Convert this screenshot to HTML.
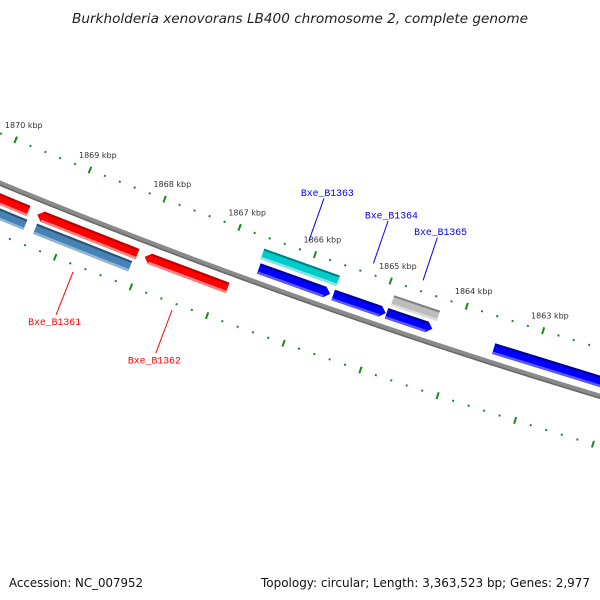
<!DOCTYPE html>
<html><head><meta charset="utf-8"><style>
html,body{margin:0;padding:0;background:#fff;}
svg{display:block;}
</style></head><body>
<svg id="map" width="600" height="600" viewBox="0 0 600 600" xmlns="http://www.w3.org/2000/svg">
<rect width="600" height="600" fill="#fff"/>
<text x="300" y="23" text-anchor="middle" font-family="DejaVu Sans, Liberation Sans, sans-serif" font-style="italic" font-size="13" fill="#222" textLength="456" lengthAdjust="spacingAndGlyphs">Burkholderia xenovorans LB400 chromosome 2, complete genome</text>
<g id="plot"></g>
<text x="9" y="587" font-family="DejaVu Sans, Liberation Sans, sans-serif" font-size="12" fill="#111" textLength="134" lengthAdjust="spacingAndGlyphs">Accession: NC_007952</text>
<text x="261" y="587" font-family="DejaVu Sans, Liberation Sans, sans-serif" font-size="12" fill="#111" textLength="329" lengthAdjust="spacingAndGlyphs">Topology: circular; Length: 3,363,523 bp; Genes: 2,977</text>
</svg>
<script>
// data (kbp)
const tickMajors = [1870, 1869, 1868, 1867, 1866, 1865, 1864, 1863, 1862];
const tickLabels = ["1870 kbp","1869 kbp","1868 kbp","1867 kbp","1866 kbp","1865 kbp","1864 kbp","1863 kbp",""];
const geneStarts = [1870.6, 1869.40, 1867.975, 1870.6, 1869.36, 1866.60, 1866.62, 1865.62, 1864.92, 1864.90, 1863.52];
const geneEnds   = [1869.52, 1868.07, 1866.88, 1869.49, 1868.10, 1865.66, 1865.62, 1864.93, 1864.32, 1864.30, 1861.80];
const geneKinds  = ["rev","rev","rev","revcds","revcds","fwd","fwdcds","fwd","fwd","misc","fwd"];
const labelNames = ["Bxe_B1361","Bxe_B1362","Bxe_B1363","Bxe_B1364","Bxe_B1365"];
const labelGene  = [4, 2, 5, 7, 8];

const NS="http://www.w3.org/2000/svg";
const CX=2415, CY=-5667;
const R_BACK=6329, R_UP=6283, R_LOW=6377;
function ang(k){ return (112.45-(1870-k)*0.731)*Math.PI/180; }
function pt(k,r){ const a=ang(k); return [CX+r*Math.cos(a), CY+r*Math.sin(a)]; }
function P(arr){ return arr.map(p=>p[0].toFixed(2)+","+p[1].toFixed(2)).join(" "); }
const plot=document.getElementById('plot');
function mk(tag,attrs,parent){ const e=document.createElementNS(NS,tag); for(const k in attrs) e.setAttribute(k,attrs[k]); (parent||plot).appendChild(e); return e; }

// backbone
(function(){
  const pts=[], ptsO=[];
  for(let k=1871.5;k>=1861.5;k-=0.1){ pts.push(pt(k,R_BACK)); ptsO.push(pt(k,R_BACK+2)); }
  const b=mk('polyline',{points:P(pts),fill:'none',stroke:'#8a8a8a','stroke-width':5});
  
  
  const b2=mk('polyline',{points:P(ptsO),fill:'none',stroke:'#666','stroke-width':1.5});
  
  
})();

// ticks
function tickRow(r,name,withLabels){
  const g=mk('g',{});
  
  
  const kmax=tickMajors[0]+0.8, kmin=tickMajors[tickMajors.length-1];
  for(let i=Math.round(kmax*5);i>=Math.round(kmin*5);i--){
    const k=i/5;
    const major=Math.abs(k-Math.round(k))<1e-6;
    if(major){
      const a=pt(k,r-3.5), b=pt(k,r+3.5);
      const t=mk('line',{x1:a[0],y1:a[1],x2:b[0],y2:b[1],stroke:'#1a8a1a','stroke-width':2},g);
      
      
    } else {
      const a=pt(k,r-1), b=pt(k,r+1);
      const t=mk('line',{x1:a[0],y1:a[1],x2:b[0],y2:b[1],stroke:'#1a8a1a','stroke-width':2},g);
      
      
    }
  }
  if(withLabels){
    tickMajors.forEach((k,i)=>{
      if(!tickLabels[i]) return;
      const p=pt(k,r-16);
      const t=mk('text',{x:p[0]+2,y:p[1]+3,'text-anchor':'middle','font-family':'DejaVu Sans, Liberation Sans, sans-serif','font-size':'8',fill:'#333'},g);
      t.textContent=tickLabels[i];
      
      
    });
  }
}
tickRow(R_UP,'upper-ticks',true);
tickRow(R_LOW,'lower-ticks',false);

// genes
const kindStyle={
  rev:{r:6344,main:'#ff0000',top:'#b80000',bot:'#ff8080',arrow:-1},
  revcds:{r:6358,main:'#4682b4',top:'#2b5276',bot:'#8fb4d8',arrow:0},
  fwd:{r:6315,main:'#0000ff',top:'#00008a',bot:'#5a5aff',arrow:1},
  fwdcds:{r:6300,main:'#00cccc',top:'#008080',bot:'#80e6e6',arrow:0},
  misc:{r:6301,main:'#bdbdbd',top:'#808080',bot:'#dedede',arrow:0}
};
const H=5.5, AH=0.07;
geneStarts.forEach((ks,i)=>{
  const ke=geneEnds[i], s=kindStyle[geneKinds[i]];
  const g=mk('g',{});
  
  
  let a=ks,b=ke;
  if(s.arrow===1) b=ke+AH;
  if(s.arrow===-1) a=ks-AH;
  const ri=s.r-H, ro=s.r+H;
  const poly=[pt(a,ri),pt(b,ri)];
  if(s.arrow===1) poly.push(pt(ke,s.r));
  poly.push(pt(b,ro),pt(a,ro));
  if(s.arrow===-1) poly.push(pt(ks,s.r));
  const body=mk('polygon',{points:P(poly),fill:s.main},g);
  
  
  const tp=mk('polygon',{points:P([pt(a,ri),pt(b,ri),pt(b,ri+2),pt(a,ri+2)]),fill:s.top},g);
  
  
  const bt=mk('polygon',{points:P([pt(a,ro-2.5),pt(b,ro-2.5),pt(b,ro),pt(a,ro)]),fill:s.bot},g);
  
  
});

// labels
labelNames.forEach((nm,i)=>{
  const gi=labelGene[i];
  const km=(geneStarts[gi]+geneEnds[gi])/2;
  const fwd=geneKinds[gi].startsWith('fwd')||geneKinds[gi]==='misc';
  const col=fwd?'#0000ff':'#ff0000';
  const r1=fwd?6272:6384, r2=fwd?6227:6430, r3=fwd?6220:6437;
  const g=mk('g',{});
  
  
  const p1=pt(km,r1), p2=pt(km,r2), p3=pt(km,r3);
  const l=mk('line',{x1:p1[0],y1:p1[1],x2:p2[0],y2:p2[1],stroke:col,'stroke-width':1},g);
  
  
  const t=mk('text',{x:p3[0]+1,y:p3[1]+4,'text-anchor':'middle','font-family':'Liberation Mono, DejaVu Sans Mono, monospace','font-size':'10',fill:col,textLength:'53',lengthAdjust:'spacingAndGlyphs'},g);
  t.textContent=nm;
  
  
});
</script>
</body></html>
